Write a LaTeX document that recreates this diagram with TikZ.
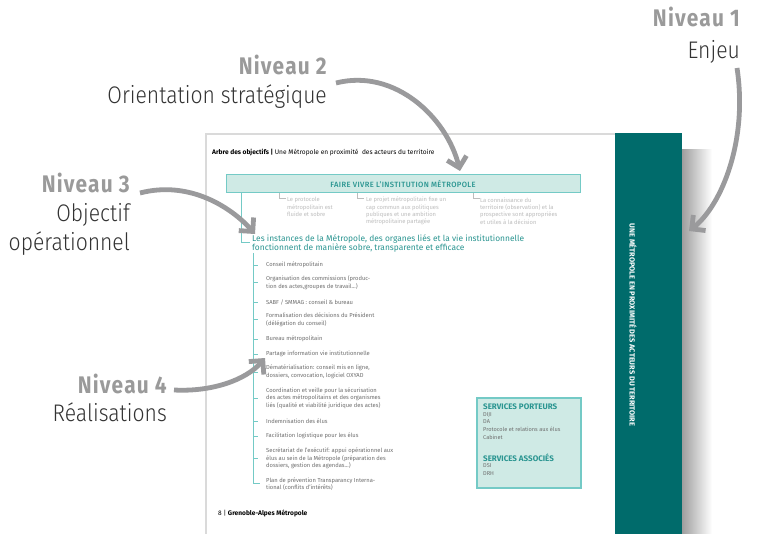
\documentclass[tikz,border=0pt]{standalone}
\usepackage{fontspec}
\setmainfont{Fira Sans}
\newfontfamily\lblfont{Fira Sans}[FakeStretch=0.87, LetterSpace=5]
\newfontfamily\lbllight{Fira Sans Light}[FakeStretch=0.88]
\newfontfamily\spacedfont{Fira Sans Medium}[LetterSpace=5]
\usetikzlibrary{arrows.meta}
\definecolor{tealband}{HTML}{006B6B}
\definecolor{tealtext}{HTML}{2A9591}
\definecolor{tealfill}{HTML}{CFEAE5}
\definecolor{tealline}{HTML}{74CAC6}
\definecolor{arrowgray}{HTML}{9A9A9C}
\definecolor{nivgray}{HTML}{9A9A9A}
\definecolor{lbltext}{HTML}{333333}
\definecolor{itemgray}{HTML}{6E6E6E}
\definecolor{faintgray}{HTML}{BDBDBD}
\definecolor{pageborder}{HTML}{DADADA}
\begin{document}
\begin{tikzpicture}[x=1pt,y=-1pt,
  niv/.style={inner sep=0, anchor=base east, text=nivgray, font=\lblfont\bfseries\fontsize{24}{24}\selectfont},
  lbl/.style={inner sep=0, anchor=base east, text=lbltext, font=\lbllight\fontsize{24}{24}\selectfont},
  bigarrow/.style={draw=arrowgray, line width=4.8pt, -{Straight Barb[angle=90:14pt]}},
  item/.style={inner sep=0, anchor=west, align=left, text=itemgray, font=\fontsize{5.8}{7.6}\selectfont},
  faint/.style={inner sep=0, anchor=west, align=left, text=faintgray, font=\fontsize{5.8}{7.3}\selectfont},
  tealln/.style={draw=tealline, line width=0.9pt},
  faintln/.style={draw=faintgray, line width=0.9pt},
  svchead/.style={inner sep=0, anchor=west, text=tealtext, font=\bfseries\fontsize{8}{8}\selectfont},
  svcitem/.style={inner sep=0, anchor=west, align=left, text=itemgray, font=\fontsize{5.6}{7.9}\selectfont}
]
\useasboundingbox (0,0) rectangle (757,534);
\fill[white] (0,0) rectangle (757,534);

% page
\shade[left color=black!38, right color=white] (682,150) rectangle (712,534);
\draw[pageborder, line width=2pt] (206,534) -- (206,134) -- (615,134);
\fill[tealband] (615,133) rectangle (682,534);
\node[inner sep=0, rotate=-90, text=white, font=\bfseries\fontsize{7.4}{7.4}\selectfont] (band) at (633,325) {UNE MÉTROPOLE EN PROXIMITÉ DES ACTEURS DU TERRITOIRE};

% header and footer
\node[inner sep=0, anchor=west, font=\fontsize{6.6}{6.6}\selectfont] (head) at (212,153) {\textbf{Arbre des objectifs |} Une Métropole en proximité\ \ des acteurs du territoire};
\node[inner sep=0, anchor=west, font=\fontsize{6.6}{6.6}\selectfont] (foot) at (218,513) {8 | \textbf{Grenoble-Alpes Métropole}};

% level 1 box
\node[draw=tealline, fill=tealfill, line width=1pt, minimum width=354pt, minimum height=18pt, inner sep=0, text=tealtext, font=\spacedfont\fontsize{7.6}{7.6}\selectfont] (fvi) at (403,184) {FAIRE VIVRE L’INSTITUTION MÉTROPOLE};

% level 2 items
\coordinate (la) at (279,198);
\coordinate (lb) at (357,198);
\coordinate (lc) at (473,198);
\draw[faintln] (fvi.south -| la) -- (la) -- ++(7,0);
\draw[faintln] (fvi.south -| lb) -- (lb) -- ++(7,0);
\draw[faintln] (fvi.south -| lc) -- (lc) -- ++(7,0);
\node[faint] (fa) at (287,207) {Le protocole\\métropolitain est\\fluide et sobre};
\node[faint] (fb) at (366,211) {Le projet métropolitain fixe un\\cap commun aux politiques\\publiques et une ambition\\métropolitaine partagée};
\node[faint] (fc) at (480,211) {La connaissance du\\territoire (observation) et la\\prospective sont appropriées\\et utiles à la décision};

% objective
\coordinate (oc) at (241,242);
\draw[tealln] (fvi.south -| oc) -- (oc) -- ++(9,0);
\node[inner sep=0, anchor=west, align=left, text=tealtext, font=\fontsize{8.4}{7.4}\selectfont] (obj) at (252,243.5) {Les instances de la Métropole, des organes liés et la vie institutionnelle\\fonctionnent de manière sobre, transparente et efficace};

% realisations
\coordinate (rt) at (253,253);
\coordinate (rb) at (253,483);
\draw[tealln] (rt) -- (rb) -- ++(7,0);
\foreach \y/\txt [count=\i] in {
  265/{Conseil métropolitain},
  282.5/{Organisation des commissions (produc-\\tion des actes,groupes de travail...)},
  302/{SABF / SMMAG : conseil \& bureau},
  319.5/{Formalisation des décisions du Président\\(délégation du conseil)},
  339/{Bureau métropolitain},
  354/{Partage information vie institutionnelle},
  372/{Dématérialisation: conseil mis en ligne,\\dossiers, convocation, logiciel OXYAD},
  398/{Coordination et veille pour la sécurisation\\des actes métropolitains et des organismes\\liés (qualité et viabilité juridique des actes)},
  421/{Indemnisation des élus},
  436/{Facilitation logistique pour les élus},
  458.5/{Secrétariat de l’exécutif: appui opérationnel aux\\élus au sein de la Métropole (préparation des\\dossiers, gestion des agendas...)},
  484/{Plan de prévention Transparancy Interna-\\tional (conflits d’intérêts)}}
{
  \node[item] (r\i) at (266,\y) {\txt};
}
\foreach \i in {1,...,11} {
  \draw[tealln] (rt |- r\i.west) -- ++(5,0);
}

% services box
\node[draw=tealline, fill=tealfill, line width=1.3pt, minimum width=104pt, minimum height=90pt, inner sep=0] (svc) at (529,443) {};
\node[svchead] (sp) at (483,407) {SERVICES PORTEURS};
\node[svcitem] (spl) at (483,426) {DIJI\\DA\\Protocole et relations aux élus\\Cabinet};
\node[svchead] (sa) at (483,458) {SERVICES ASSOCIÉS};
\node[svcitem] (sal) at (483,469.5) {DSI\\DRH};

% labels
\node[niv] (n1) at (740,27) {Niveau 1};
\node[lbl] (e1) at (740,58.5) {Enjeu};
\node[niv] (n2) at (327,75) {Niveau 2};
\node[lbl] (e2) at (327,104) {Orientation stratégique};
\node[niv] (n3) at (130,193) {Niveau 3};
\node[lbl] (e3a) at (130,222) {Objectif};
\node[lbl] (e3b) at (130,251) {opérationnel};
\node[niv] (n4) at (167,393) {Niveau 4};
\node[lbl] (e4) at (167,421) {Réalisations};

% arrows
\coordinate (s1) at (737,68);  \coordinate (t1) at (689,231);
\coordinate (s2) at (336,83);  \coordinate (t2) at (460,171);
\coordinate (s3) at (140,193); \coordinate (t3) at (255,234);
\coordinate (s4) at (174,390); \coordinate (t4) at (265,358);
\draw[bigarrow] (s1) .. controls (748,140) and (722,205) .. (t1);
\draw[bigarrow] (s2) .. controls (395,68) and (447,118) .. (t2);
\draw[bigarrow] (s3) .. controls (190,180) and (232,208) .. (t3);
\draw[bigarrow] (s4) .. controls (212,392) and (246,380) .. (t4);
\end{tikzpicture}
\end{document}
